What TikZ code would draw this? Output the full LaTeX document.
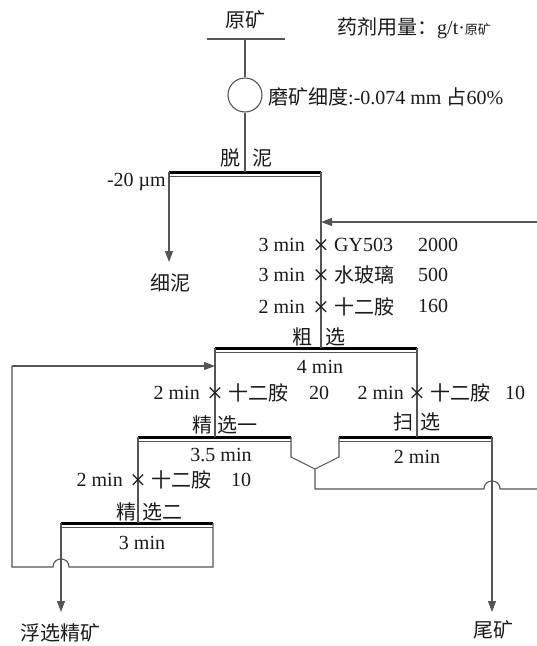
\documentclass[tikz,border=0pt]{standalone}
\usepackage{fontspec}
\setmainfont{Liberation Serif}
\newfontfamily\cjk{Noto Sans CJK SC}
\usetikzlibrary{arrows.meta}
\definecolor{lc}{HTML}{555555}
\definecolor{tc}{HTML}{1A1A1A}
\begin{document}
\begin{tikzpicture}[x=1pt,y=-1pt,
  ln/.style={draw=lc, line width=1.1pt},
  barthick/.style={draw=black, line width=3pt},
  barthin/.style={draw=lc, line width=0.8pt},
  arr/.style={ln, -{Triangle[length=11pt,width=8pt]}},
  txt/.style={inner sep=0pt, font=\fontsize{20}{24}\selectfont, text=tc},
  crs/.style={inner sep=0pt, font=\fontsize{28}{28}\selectfont, text=tc, text height=18pt, text depth=0pt},
]
\useasboundingbox (0,0) rectangle (537,646);

% ---------- key points ----------
\coordinate (feedL) at (207,39);
\coordinate (feedR) at (285,39);
\coordinate (feedC) at (245,39);
\node[circle, ln, minimum size=34pt, inner sep=0pt] (mill) at (245,95) {};

\coordinate (dnL) at (169,172); \coordinate (dnR) at (321,172); \coordinate (dnC) at (245,172);
\coordinate (csL) at (215,348); \coordinate (csR) at (417,348); \coordinate (csC) at (321,348);
\coordinate (j1L) at (138,437); \coordinate (j1R) at (291,437); \coordinate (j1C) at (215,437);
\coordinate (sxL) at (339,437); \coordinate (sxR) at (492,437); \coordinate (sxC) at (417,437);
\coordinate (j2L) at (61,523);  \coordinate (j2R) at (213,523); \coordinate (j2C) at (138,523);

% ---------- bars ----------
\foreach \a/\b in {dnL/dnR, csL/csR, j1L/j1R, sxL/sxR, j2L/j2R}{
  \draw[barthick] (\a) -- (\b);
  \draw[barthin] ([yshift=-4.5pt]\a) -- ([yshift=-4.5pt]\b);
}

% ---------- feed ----------
\draw[ln] (feedL) -- (feedR);
\draw[ln] (feedC) -- (mill.north);
\draw[ln] (mill.south) -- (dnC);

% desliming
\coordinate (slimeEnd) at (169,262);
\draw[arr] (dnL) -- (slimeEnd);
\draw[ln] (dnR) -- (csC);
\coordinate (recycleIn) at (321,222);
\coordinate (recycleFar) at (537,222);
\draw[arr] (recycleFar) -- (recycleIn);

% rougher
\draw[ln] (csL) -- (j1C);
\draw[ln] (csR) -- (sxC);

% cleaner 1 tail + scavenger conc -> V
\coordinate (v1) at (291,457); \coordinate (v2) at (315,469); \coordinate (v3) at (339,457);
\coordinate (v4) at (315,489);
\draw[ln] (j1R) -- (v1) -- (v2) -- (v3) -- (sxL);
\draw[ln] (v2) -- (v4) -- (484,489) .. controls (484,478.3) and (500,478.3) .. (500,489) -- (537,489);

% scavenger tail
\coordinate (tailEnd) at (492,612);
\draw[arr] (sxR) -- (tailEnd);

% cleaner 1 conc -> cleaner 2
\draw[ln] (j1L) -- (j2C);

% cleaner 2 tail -> back to cleaner 1 feed
\coordinate (lp1) at (213,567); \coordinate (lp2) at (12,567); \coordinate (lp3) at (12,366);
\coordinate (lpIn) at (215,366);
\draw[ln] (j2R) -- (lp1) -- (69,567) .. controls (69,556.3) and (53,556.3) .. (53,567) -- (lp2) -- (lp3);
\draw[arr] (lp3) -- (lpIn);

% cleaner 2 conc
\coordinate (concEnd) at (61,612);
\draw[arr] (j2L) -- (concEnd);

% ---------- texts ----------
\node[txt] (tRaw) at (245,20) {\cjk 原矿};
\node[txt, anchor=west] (tDose) at (337,28) {{\cjk 药剂用量：}g/t·{\cjk\fontsize{13}{15}\selectfont 原矿}};
\node[txt, anchor=west] (tGrind) at (268,97) {{\cjk 磨矿细度}:-0.074 mm {\cjk 占}60\%};

\node[txt] (tTuo) at (230,158) {\cjk 脱};
\node[txt] (tNi) at (262,158) {\cjk 泥};
\node[txt, anchor=east] (t20) at (166,182) {-20 µm};
\node[txt] (tSlime) at (170,283) {\cjk 细泥};

% rougher reagents
\node[txt, anchor=east] (r1t) at (305,245) {3 min};
\node[crs] (r1x) at (321,245) {×};
\node[txt, anchor=west] (r1r) at (334,245) {GY503};
\node[txt, anchor=west] (r1d) at (418,245) {2000};
\node[txt, anchor=east] (r2t) at (305,275) {3 min};
\node[crs] (r2x) at (321,275) {×};
\node[txt, anchor=west] (r2r) at (334,275) {\cjk 水玻璃};
\node[txt, anchor=west] (r2d) at (418,275) {500};
\node[txt, anchor=east] (r3t) at (305,307) {2 min};
\node[crs] (r3x) at (321,307) {×};
\node[txt, anchor=west] (r3r) at (334,307) {\cjk 十二胺};
\node[txt, anchor=west] (r3d) at (418,306) {160};
\node[txt] (tCu) at (302,337) {\cjk 粗};
\node[txt] (tXuan1) at (335,337) {\cjk 选};
\node[txt] (tCsT) at (320,367) {4 min};

% cleaner 1 reagent
\node[txt, anchor=east] (c1t) at (200,393) {2 min};
\node[crs] (c1x) at (215,393) {×};
\node[txt, anchor=west] (c1r) at (228,393) {\cjk 十二胺};
\node[txt, anchor=west] (c1d) at (309,393) {20};
\node[txt] (tJing1) at (202,425) {\cjk 精};
\node[txt, anchor=west] (tXY1) at (217,425) {\cjk 选一};
\node[txt] (tJ1T) at (221,455) {3.5 min};

% scavenger reagent
\node[txt, anchor=east] (s1t) at (404,393) {2 min};
\node[crs] (s1x) at (417,393) {×};
\node[txt, anchor=west] (s1r) at (430,393) {\cjk 十二胺};
\node[txt, anchor=west] (s1d) at (505,393) {10};
\node[txt] (tSao) at (403,422) {\cjk 扫};
\node[txt] (tXuan2) at (430,422) {\cjk 选};
\node[txt] (tSxT) at (417,457) {2 min};

% cleaner 2 reagent
\node[txt, anchor=east] (c2t) at (123,480) {2 min};
\node[crs] (c2x) at (138,480) {×};
\node[txt, anchor=west] (c2r) at (151,480) {\cjk 十二胺};
\node[txt, anchor=west] (c2d) at (231,480) {10};
\node[txt] (tJing2) at (126,512) {\cjk 精};
\node[txt, anchor=west] (tXY2) at (142,512) {\cjk 选二};
\node[txt] (tJ2T) at (142,543) {3 min};

\node[txt] (tConc) at (60,633) {\cjk 浮选精矿};
\node[txt] (tTail) at (493,630) {\cjk 尾矿};
\end{tikzpicture}
\end{document}
